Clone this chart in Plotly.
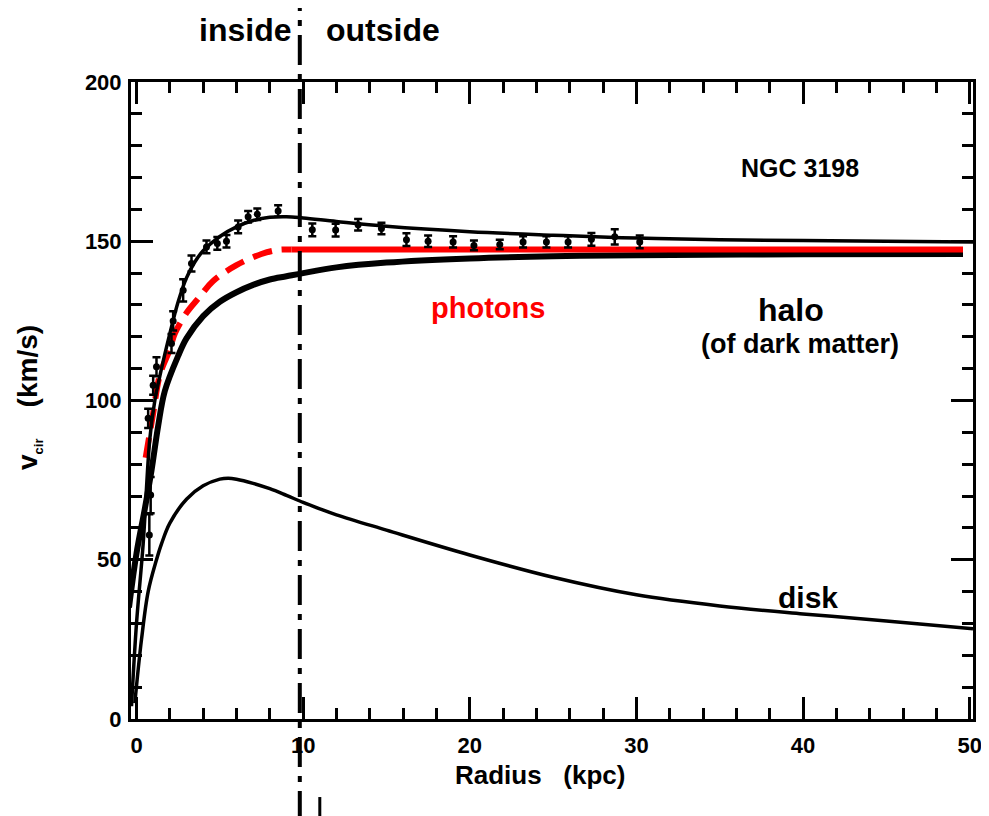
import plotly.graph_objects as go

# ---- data ----
# observed rotation curve points (kpc, km/s, error)
obs_r = [0.77, 0.85, 0.7, 1.0, 1.2, 2.1, 2.2, 2.8, 3.3, 4.2, 4.85, 5.4, 6.1, 6.7, 7.25, 8.5,
         10.55, 11.95, 13.3, 14.7, 16.2, 17.5, 19.0, 20.25, 21.8, 23.2, 24.6, 25.9, 27.3, 28.7, 30.2]
obs_v = [57.8, 70.3, 94.4, 104.8, 110.6, 117.9, 125.0, 134.6, 143.0, 148.2, 149.3, 150.0, 154.5, 157.7, 158.5, 159.5,
         153.6, 153.5, 155.2, 154.0, 150.5, 150.0, 149.8, 148.7, 149.0, 149.8, 149.8, 149.8, 150.6, 151.4, 149.8]
obs_err = [6.5, 5.7, 3.0, 3.0, 3.0, 3.0, 3.0, 3.5, 2.5, 2.0, 2.0, 2.0, 2.0, 1.8, 1.8, 1.8,
           2.0, 2.0, 1.8, 1.8, 2.0, 1.8, 1.8, 1.5, 1.5, 1.8, 1.8, 1.8, 2.0, 2.4, 2.0]

# total fit (thin black)
tot_r = [-0.3, 0.0, 0.4, 0.8, 1.1, 1.5, 2.0, 2.5, 3.0, 3.5, 4.0, 5.0, 6.0, 7.0, 8.0, 9.0, 10.0, 12.0, 15.0,
         20.0, 25.0, 30.0, 35.0, 40.0, 45.0, 50.2]
tot_v = [4, 30, 55, 88, 100, 110, 121, 131, 138.5, 143.5, 147, 151.5, 154.5, 156.5, 157.5, 157.7, 157.3, 156.2,
         154.7, 153.0, 151.9, 151.0, 150.5, 150.2, 150.0, 149.8]

# halo (thick black)
halo_r = [-0.45, 0.0, 0.5, 0.9, 1.3, 1.7, 2.5, 3.0, 4.0, 5.0, 6.0, 7.0, 8.0, 9.0, 10.0, 12.0, 15.0, 20.0,
          25.0, 30.0, 40.0, 49.6]
halo_v = [35, 52, 66, 78, 92, 103, 114, 119.5, 126.5, 131, 134, 136.3, 138, 139, 140, 141.8, 143.3, 144.6,
          145.3, 145.6, 145.9, 146.0]

# disk (thin black)
disk_r = [-0.1, 0.3, 0.7, 1.2, 1.5, 2.0, 3.0, 4.0, 5.0, 5.5, 6.0, 7.0, 8.0, 9.0, 10.0, 11.0, 12.0, 15.0,
          20.0, 25.0, 30.0, 35.0, 40.0, 45.0, 50.2]
disk_v = [5, 25, 40, 50, 55, 61.5, 69, 73.2, 75.3, 75.6, 75.3, 74.0, 72.3, 70.2, 68.0, 66.0, 64.1, 59.3,
          51.5, 44.5, 39, 35.5, 33, 30.8, 28.3]

# photons (red): dashed inside, solid outside
ph_in_r = [0.55, 1.0, 1.4, 2.0, 2.3, 3.0, 3.7, 4.6, 6.0, 7.5, 8.5, 9.3]
ph_in_v = [82, 96, 108, 116, 121, 127.5, 132, 137.5, 142.5, 146, 147.3, 147.4]
ph_out_r = [9.3, 49.6]
ph_out_v = [147.4, 147.4]

boundary_r = 9.8

x_ticks = [0, 10, 20, 30, 40, 50]
y_ticks = [0, 50, 100, 150, 200]

FONT = "Liberation Sans, Arial, sans-serif"

fig = go.Figure()

fig.add_trace(go.Scatter(x=disk_r, y=disk_v, mode="lines", line=dict(color="black", width=3.5, shape="spline"),
                         showlegend=False, hoverinfo="skip"))
fig.add_trace(go.Scatter(x=halo_r, y=halo_v, mode="lines", line=dict(color="black", width=6, shape="spline"),
                         showlegend=False, hoverinfo="skip"))
fig.add_trace(go.Scatter(x=ph_out_r, y=ph_out_v, mode="lines", line=dict(color="#ff0000", width=6),
                         showlegend=False, hoverinfo="skip"))
fig.add_trace(go.Scatter(x=ph_in_r, y=ph_in_v, mode="lines",
                         line=dict(color="#ff0000", width=6, dash="20px,10px", shape="spline"),
                         showlegend=False, hoverinfo="skip"))
fig.add_trace(go.Scatter(x=tot_r, y=tot_v, mode="lines", line=dict(color="black", width=3.5, shape="spline"),
                         showlegend=False, hoverinfo="skip"))
fig.add_trace(go.Scatter(x=obs_r, y=obs_v, mode="markers",
                         marker=dict(color="black", size=7),
                         error_y=dict(type="data", array=obs_err, color="black", thickness=2.5, width=4),
                         showlegend=False, hoverinfo="skip"))

# boundary dash-dot line extending beyond the plot
fig.add_shape(type="line", xref="x", yref="paper", x0=boundary_r, x1=boundary_r, y0=-0.16, y1=1.116,
              line=dict(color="black", width=4, dash="30px,9px,6px,9px"), layer="above")
# small marks
fig.add_shape(type="line", xref="x", yref="paper", x0=11.0, x1=11.0, y0=-0.16, y1=-0.1225,
              line=dict(color="black", width=3))
fig.add_shape(type="line", xref="x", yref="y", x0=0.2, x1=1.5, y0=-0.6, y1=-0.6,
              line=dict(color="black", width=3))

anns = [
    dict(text="NGC 3198", x=39.8, y=173, xref="x", yref="y", size=25, color="black"),
    dict(text="photons", x=21.1, y=129, xref="x", yref="y", size=29, color="#ff0000"),
    dict(text="halo", x=39.3, y=128.4, xref="x", yref="y", size=32, color="black"),
    dict(text="(of dark matter)", x=39.8, y=117.7, xref="x", yref="y", size=27, color="black"),
    dict(text="disk", x=40.3, y=38, xref="x", yref="y", size=30, color="black"),
    dict(text="inside", x=0.135, y=1.0816, xref="paper", yref="paper", size=32, color="black"),
    dict(text="outside", x=0.299, y=1.0816, xref="paper", yref="paper", size=32, color="black"),
    dict(text="Radius\u00a0\u00a0\u00a0(kpc)", x=0.4857, y=-0.0879, xref="paper", yref="paper", size=26, color="black"),
]
for a in anns:
    fig.add_annotation(text=a["text"], x=a["x"], y=a["y"], xref=a["xref"], yref=a["yref"],
                       showarrow=False, xanchor="center", yanchor="middle",
                       font=dict(family=FONT, size=a["size"], color=a["color"], weight="bold"))
fig.add_annotation(text="v<sub><span style=\"font-size:13px\">cir</span></sub>\u00a0\u00a0\u00a0\u00a0(km/s)",
                   x=-0.1211, y=0.504, xref="paper", yref="paper", textangle=-90,
                   showarrow=False, xanchor="center", yanchor="middle",
                   font=dict(family=FONT, size=28, color="black", weight="bold"))

axis_common = dict(showgrid=False, zeroline=False, showline=True, linecolor="black", linewidth=3,
                   mirror="ticks", ticks="inside", tickwidth=3, ticklen=22, tickcolor="black",
                   tickfont=dict(family=FONT, size=22, color="black", weight="bold"))

fig.update_xaxes(range=[-0.33, 50.2], tickvals=x_ticks, ticktext=[str(t) for t in x_ticks],
                 minor=dict(dtick=2, ticklen=11, tickwidth=3, tickcolor="black", ticks="inside"),
                 ticklabelstandoff=5, **axis_common)
fig.update_yaxes(range=[0, 200], tickvals=y_ticks, ticktext=[str(t) for t in y_ticks],
                 minor=dict(dtick=10, ticklen=11, tickwidth=3, tickcolor="black", ticks="inside"),
                 ticklabelstandoff=2, **axis_common)

# page body adds an 8px offset; margins compensate so the plot area lands where the reference has it
fig.update_layout(width=989, height=816, margin=dict(l=123, r=24, t=74, b=105),
                  plot_bgcolor="white", paper_bgcolor="white", showlegend=False)

fig.write_html("out.html")
